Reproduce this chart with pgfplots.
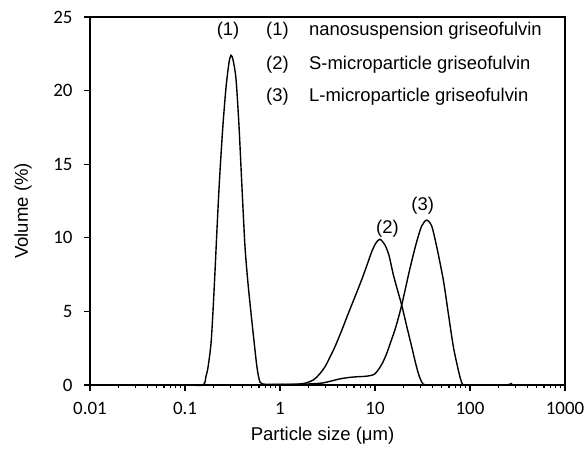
\documentclass[border=0pt]{standalone}
\usepackage{pgfplots}
\pgfplotsset{compat=1.18}
\usepackage{fontspec}
\setmainfont{Liberation Sans}
\newfontfamily\carlito{Carlito}
\begin{document}
\begin{tikzpicture}
\path[use as bounding box] (-90bp,-79bp) rectangle (497bp,385bp);
\begin{axis}[
  at={(0,0)}, anchor=south west,
  scale only axis, width=475bp, height=368bp,
  xmode=log, xmin=0.01, xmax=1000, ymin=0, ymax=25,
  xtick={0.01,0.1,1,10,100,1000},
  xticklabels={0.01,0.1,1,10,100,1000},
  ytick={0,5,10,15,20,25},
  yticklabels={0,5,10,15,20,25},
  minor tick num=0, minor xtick={},
  xtick pos=bottom, ytick pos=left,
  tick align=outside, major tick length=6bp,
  tick style={line width=1.2bp, black},
  axis line style={line width=1.2bp},
  ticklabel style={font=\carlito\fontsize{19}{22}\selectfont},
  xticklabel style={yshift=-8bp},
  yticklabel style={xshift=-8bp},
  label style={font=\fontsize{18.6}{22}\selectfont},
  xlabel={Particle size (μm)},
  ylabel={Volume (\%)},
  xlabel style={at={(axis description cs:0.4895,-0.139)}, anchor=center},
  ylabel style={at={(axis description cs:-0.141,0.473)}, anchor=center},
  clip=false,
]
% (1) nanosuspension griseofulvin
\addplot[black, line width=1.4bp, smooth, tension=0.45] coordinates {
 (0.01,0) (0.1,0) (0.1547,0) (0.1664,0.6) (0.1747,1.2) (0.1878,2.8) (0.1971,5.0)
 (0.2069,7.7) (0.2172,10.6) (0.2279,13.3) (0.2392,15.6) (0.2512,17.7) (0.2701,20.2)
 (0.2905,21.9) (0.3049,22.4) (0.3201,22.1) (0.3442,20.8) (0.3702,17.6) (0.3981,13.4)
 (0.4281,9.4) (0.4604,6.9) (0.4951,4.9) (0.5324,3.0) (0.5726,1.2) (0.6158,0.2)
 (0.6953,0.05) (1.0,0.04) (1.5,0.03) (2.5,0.0)
};
% (2) S-microparticle griseofulvin
\addplot[black, line width=1.4bp, smooth, tension=0.45] coordinates {
 (0.6,0) (1.0,0.02) (1.499,0.05) (1.83,0.12) (2.24,0.34) (2.574,0.7) (2.977,1.24)
 (3.36,1.9) (3.79,2.6) (4.46,3.7) (5.24,4.87) (6.16,6.0) (7.24,7.15) (8.24,8.15)
 (9.30,9.1) (10.24,9.65) (11.29,9.9) (12.75,9.5) (14.04,8.8) (15.58,7.5) (17.25,6.45)
 (19.1,5.43) (21.56,4.0) (24.34,2.6) (26.37,1.65) (28.57,0.79) (30.5,0.3)
 (32.25,0.05) (34.4,0) (40,0)
};
% (3) L-microparticle griseofulvin
\addplot[black, line width=1.4bp, smooth, tension=0.45] coordinates {
 (0.6,0) (1.0,0.03) (1.5,0.05) (2.0,0.07) (2.76,0.13) (3.5,0.28) (4.3,0.42) (5.45,0.52)
 (6.5,0.56) (7.5,0.58) (8.6,0.62) (9.8,0.72) (10.8,1.02) (12.0,1.5) (13.3,2.15)
 (14.6,2.9) (16.2,3.74) (17.7,4.6) (19.1,5.43) (21.0,6.6) (23.1,7.8) (27.1,9.6)
 (31.0,10.8) (35.0,11.2) (39.5,10.8) (44.6,9.4) (52.4,7.13) (59.1,4.87) (66.8,2.6)
 (75.3,1.02) (80,0.35) (84,0.03) (95,0) (150,0.01) (250,0.02) (272,0.1) (280,0)
};
\node[font=\fontsize{18.5}{22}\selectfont] at (axis cs:0.284,24.05) {(1)};
\node[font=\fontsize{18.5}{22}\selectfont] at (axis cs:13.5,10.65) {(2)};
\node[font=\fontsize{18.5}{22}\selectfont] at (axis cs:31.8,12.2) {(3)};
\node[font=\fontsize{18.5}{22}\selectfont, anchor=west, inner sep=0pt] at (rel axis cs:0.3705,0.9626) {(1)};
\node[font=\fontsize{18.5}{22}\selectfont, anchor=west, inner sep=0pt] at (rel axis cs:0.3705,0.8696) {(2)};
\node[font=\fontsize{18.5}{22}\selectfont, anchor=west, inner sep=0pt] at (rel axis cs:0.3705,0.7834) {(3)};
\node[font=\fontsize{18.5}{22}\selectfont, anchor=west, inner sep=0pt] at (rel axis cs:0.461,0.9626) {nanosuspension griseofulvin};
\node[font=\fontsize{18.5}{22}\selectfont, anchor=west, inner sep=0pt] at (rel axis cs:0.461,0.8696) {S-microparticle griseofulvin};
\node[font=\fontsize{18.5}{22}\selectfont, anchor=west, inner sep=0pt] at (rel axis cs:0.461,0.7834) {L-microparticle griseofulvin};
\end{axis}
\end{tikzpicture}
\end{document}
